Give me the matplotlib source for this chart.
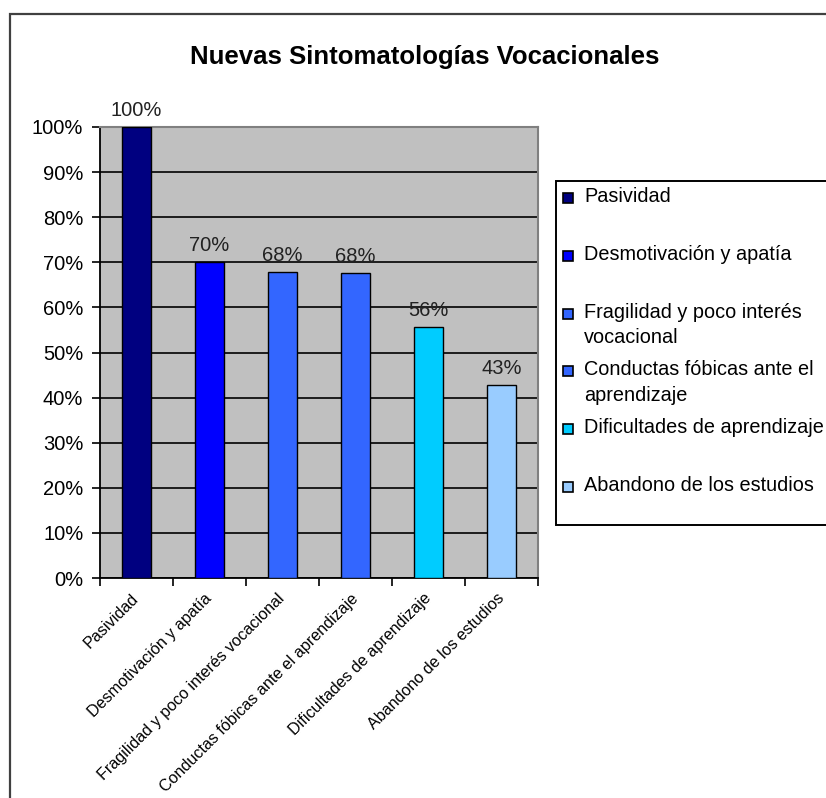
import matplotlib
matplotlib.use("Agg")
import matplotlib.pyplot as plt
from matplotlib.patches import Rectangle
from matplotlib.ticker import PercentFormatter, FixedLocator
import numpy as np

plt.rcParams['font.family'] = ['Liberation Sans', 'DejaVu Sans']

# ---- data ----
categories = [
    'Pasividad',
    'Desmotivación y apatía',
    'Fragilidad y poco interés vocacional',
    'Conductas fóbicas ante el aprendizaje',
    'Dificultades de aprendizaje',
    'Abandono de los estudios',
]
legend_labels = [
    'Pasividad',
    'Desmotivación y apatía',
    'Fragilidad y poco interés\nvocacional',
    'Conductas fóbicas ante el\naprendizaje',
    'Dificultades de aprendizaje',
    'Abandono de los estudios',
]
values = [1.00, 0.70, 0.679, 0.677, 0.556, 0.428]
colors = ['#000080', '#0000FF', '#3366FF', '#3366FF', '#00CCFF', '#99CCFF']
y_ticks = np.arange(0, 1.01, 0.1)

W, H = 826, 798
fig = plt.figure(figsize=(W / 100, H / 100), dpi=100)

# chart frame (right/bottom edges fall outside the picture)
fig.patches.append(Rectangle((10 / W, -0.1), 1.2, 1 - 14 / H + 0.1,
                             transform=fig.transFigure, fill=False,
                             edgecolor='#404040', linewidth=1.6))

# plot area
ax = fig.add_axes([100 / W, 1 - 578 / H, 438 / W, 451 / H])
ax.set_facecolor('#C0C0C0')
x = np.arange(len(categories))
ax.bar(x, values, width=0.41, color=colors, edgecolor='black',
       linewidth=1.0, zorder=3)
ax.set_xlim(-0.5, len(categories) - 0.5)
ax.set_ylim(0, 1)

ax.yaxis.set_major_locator(FixedLocator(y_ticks))
ax.yaxis.set_major_formatter(PercentFormatter(1.0, decimals=0))
ax.grid(axis='y', color='black', linewidth=1.2, zorder=1)
ax.tick_params(axis='y', direction='out', length=6, width=1.2,
               labelsize=14.5, pad=6)

# x ticks at category boundaries, labels at centers
ax.set_xticks(np.arange(-0.5, len(categories)), labels=[''] * (len(categories) + 1))
ax.set_xticks(x, labels=categories, minor=True)
ax.tick_params(axis='x', which='major', direction='out', length=6, width=1.2)
ax.tick_params(axis='x', which='minor', length=0, pad=13, labelsize=11.6)
for lab in ax.get_xticklabels(minor=True):
    lab.set_rotation(45)
    lab.set_ha('right')
    lab.set_va('center')
    lab.set_rotation_mode('anchor')

for side in ['top', 'right']:
    ax.spines[side].set_color('#808080')
    ax.spines[side].set_linewidth(1.5)
for side in ['left', 'bottom']:
    ax.spines[side].set_color('black')
    ax.spines[side].set_linewidth(1.3)

# value labels
for xi, v in zip(x, values):
    ax.annotate(f'{v:.0%}', (xi, v), xytext=(0, 5), textcoords='offset points',
                ha='center', va='bottom', fontsize=14.5, color='#222222',
                annotation_clip=False)

fig.text(425 / W, 1 - 57 / H, 'Nuevas Sintomatologías Vocacionales',
         ha='center', va='center', fontsize=18.5, fontweight='bold')

# legend box
leg_left, leg_top, leg_bottom = 556, 181, 525
fig.patches.append(Rectangle((leg_left / W, 1 - leg_bottom / H), 1.0,
                             (leg_bottom - leg_top) / H,
                             transform=fig.transFigure, fill=True,
                             facecolor='white', edgecolor='black', linewidth=1.4))
for i, (lab, c) in enumerate(zip(legend_labels, colors)):
    yc = 198 + i * 57.8
    fig.patches.append(Rectangle((563 / W, 1 - (yc + 5) / H), 10 / W, 10 / H,
                                 transform=fig.transFigure, facecolor=c,
                                 edgecolor='black', linewidth=1.2))
    fig.text(584 / W, 1 - (yc - 11) / H, lab, ha='left', va='top',
             fontsize=14.3, linespacing=1.45)

fig.savefig('out.png', dpi=100)
